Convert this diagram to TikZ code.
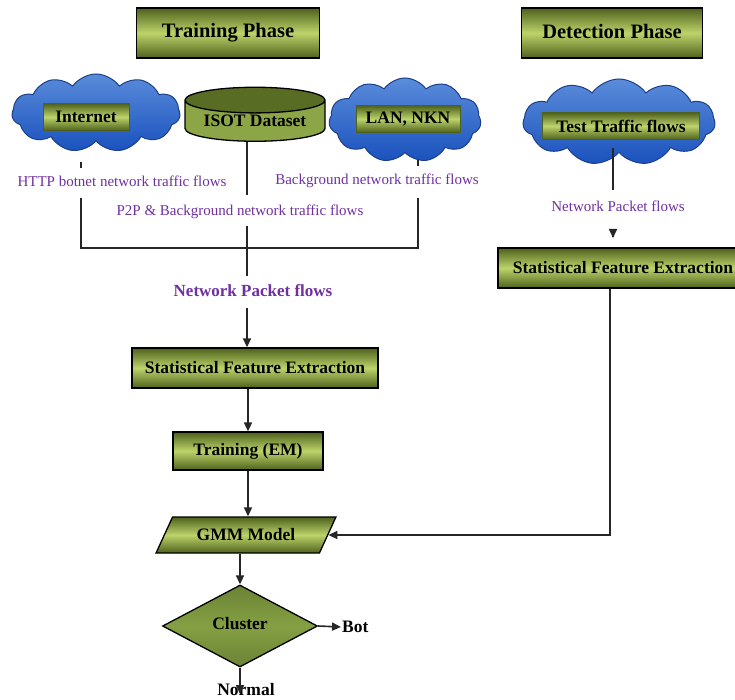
\documentclass[tikz,border=0pt]{standalone}
\usepackage{fontspec}
\setmainfont{Liberation Serif}
\usetikzlibrary{shapes.geometric,shapes.symbols,arrows.meta}
\definecolor{purp}{HTML}{7030A0}
\definecolor{gdark}{HTML}{4E611C}
\definecolor{glight}{HTML}{BDD36A}
\definecolor{gflat}{HTML}{7E9A3E}
\definecolor{cldark}{HTML}{1C3F8A}
\definecolor{cltop}{HTML}{5A8CDA}
\definecolor{clbot}{HTML}{1A52BE}
\begin{document}
\begin{tikzpicture}[x=1pt,y=-1pt,
  bfont/.style={font=\bfseries\fontsize{17.5}{19}\selectfont},
  gbox/.style={draw=black, line width=1.3pt, top color=gdark, bottom color=gdark, middle color=glight,
    bfont, inner sep=0pt, minimum width=#1},
  gbox/.default=150,
  inbox/.style={draw=gdark, line width=0.6pt, top color=gdark, bottom color=gdark, middle color=glight,
    bfont, inner sep=0pt, minimum height=27},
  cloudy/.style={cloud, cloud puffs=11, cloud puff arc=110, draw=cldark, line width=1pt,
    top color=cltop, bottom color=clbot, inner sep=0pt},
  lbl/.style={text=purp, font=\fontsize{15}{17}\selectfont, inner sep=1pt},
  conn/.style={line width=1.6pt, draw=black!85},
  arr/.style={conn, -{Triangle[length=9pt,width=8pt]}},
]
\useasboundingbox (0,0) rectangle (735,700);
\fill[white] (0,0) rectangle (735,700);

% phase headers
\node[gbox=183, minimum height=50, font=\bfseries\fontsize{20.5}{22}\selectfont] (tphase) at (228,33) {\raisebox{4pt}{Training Phase}};
\node[gbox=181, minimum height=50, font=\bfseries\fontsize{20.5}{22}\selectfont] (dphase) at (612,33) {\raisebox{4pt}{Detection Phase}};

% sources
\node[cloudy, minimum width=168, minimum height=78] (inetc) at (96,113) {};
\node[inbox, minimum width=86] (inet) at (86,117) {Internet};
\node[cylinder, shape border rotate=90, aspect=0.25, draw=black, line width=1.3pt,
      cylinder uses custom fill, cylinder body fill=gflat!80!glight, cylinder end fill=gdark!80!gflat,
      minimum width=140, minimum height=54, inner sep=0pt, bfont] (isot) at (255,121) {ISOT Dataset};
\node[cloudy, minimum width=152, minimum height=84] (lanc) at (405,120) {};
\node[inbox, minimum width=104] (lan) at (408,119) {LAN, NKN};
\node[cloudy, minimum width=192, minimum height=86] (testc) at (619,122) {};
\node[inbox, minimum width=157] (test) at (621,126) {Test Traffic flows};

% flow labels
\node[lbl] (http) at (122,181) {HTTP botnet network traffic flows};
\node[lbl] (bg) at (377,181) {Background network traffic flows};
\node[lbl] (p2p) at (240,212) {P2P \& Background network traffic flows};
\node[lbl, font=\bfseries\fontsize{17}{19}\selectfont] (npf) at (253,291) {Network Packet flows};
\node[lbl] (npf2) at (618,206) {Network Packet flows};

% coordinates
\coordinate (a1) at (81,162); \coordinate (a2) at (81,168);
\coordinate (a3) at (81,198); \coordinate (a4) at (81,248);
\coordinate (b1) at (418,160); \coordinate (b2) at (418,166);
\coordinate (b3) at (418,198); \coordinate (b4) at (418,248);
\coordinate (c1) at (247,195); \coordinate (c2) at (247,226); \coordinate (c3) at (247,276);
\coordinate (c4) at (247,308);
\coordinate (t1) at (613,148); \coordinate (t2) at (613,190);
\coordinate (t3) at (613,226); \coordinate (t4) at (613,238);

% processing
\node[gbox=246, minimum height=40] (sfe) at (255,368) {Statistical Feature Extraction};
\node[gbox=150, minimum height=38] (train) at (248,451) {Training (EM)};
\node[trapezium, trapezium left angle=48, trapezium right angle=132, trapezium stretches=true,
      minimum width=180, minimum height=36, draw=black, line width=1.3pt,
      top color=gdark, bottom color=gdark, middle color=glight, inner sep=0pt, bfont] (gmm) at (246,535) {GMM Model};
\node[diamond, aspect=1.9, minimum width=155, minimum height=82, draw=black, line width=1.3pt,
      top color=gflat!85!black, bottom color=gflat!85!black, middle color=gflat!90!glight,
      inner sep=0pt, bfont] (clus) at (240,626) {\raisebox{5pt}{Cluster}};
\node[gbox=250, minimum height=40] (rsfe) at (623,268) {Statistical Feature Extraction};

\node[bfont, inner sep=1pt, anchor=west] (bot) at (341,627) {Bot};
\node[bfont, inner sep=1pt] (normal) at (246,690) {Normal};
\coordinate (n1) at (240,694);
\coordinate (r1) at (610,535);

% connectors
\draw[conn] (a1) -- (a2);
\draw[conn] (a3) -- (a4) -- (b4) -- (b3);
\draw[conn] (b1) -- (b2);
\draw[conn] (isot.south -| c1) -- (c1);
\draw[conn] (c2) -- (c3);
\draw[arr] (c4) -- (sfe.north -| c4);
\draw[arr] (sfe.south -| train.north) -- (train.north);
\draw[arr] (train.south) -- (train.south |- gmm.north);
\draw[arr] (gmm.south -| clus.north) -- (clus.north);
\draw[arr] (clus.east) -- (bot.west);
\draw[arr] (clus.south) -- (n1);
\draw[conn] (t1) -- (t2);
\draw[arr, shorten <=11pt] (t3) -- (t4);
\draw[arr] (rsfe.south -| r1) -- (r1) -- (gmm.east |- r1);
\end{tikzpicture}
\end{document}
